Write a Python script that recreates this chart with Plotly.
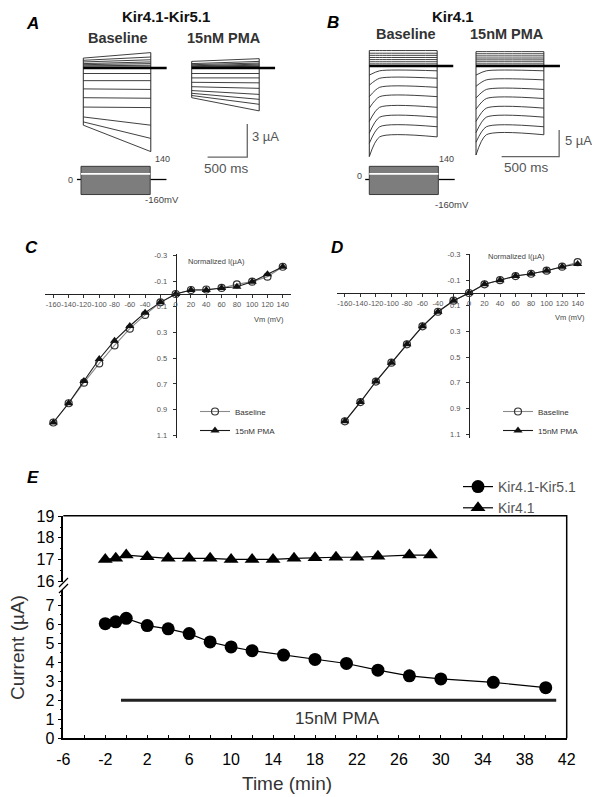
import plotly.graph_objects as go

# target canvas 600x797; the page body adds an 8px margin, so the figure is 8px smaller
OFF = 8
FW, FH = 600 - OFF, 797 - OFF
FONT = "Liberation Sans, Arial, sans-serif"

# ------------------------------------------------------------------ data
steps_mV = [-160, -140, -120, -100, -80, -60, -40, -20, 0, 20, 40, 60, 80, 100, 120, 140]

# Panel A (Kir4.1-Kir5.1): current at step onset and at step end (uA)
A_base_start = [-5.2, -4.9, -4.45, -3.55, -2.7, -1.9, -1.15, -0.5, 0.0, 0.1, 0.2, 0.3, 0.4, 0.55, 0.7, 0.9]
A_base_end = [-7.6, -6.4, -5.2, -3.6, -2.75, -1.95, -1.15, -0.5, 0.0, 0.1, 0.25, 0.4, 0.55, 0.75, 1.0, 1.4]
A_pma_start = [-2.7, -2.5, -2.3, -2.05, -1.7, -1.3, -0.9, -0.5, 0.0, 0.05, 0.1, 0.15, 0.2, 0.3, 0.4, 0.6]
A_pma_end = [-3.9, -3.3, -2.85, -2.4, -1.85, -1.35, -0.9, -0.5, 0.0, 0.1, 0.15, 0.25, 0.35, 0.45, 0.6, 0.85]

# Panel B (Kir4.1): peak current at onset and steady-state current (uA)
B_base_peak = [-17.0, -14.5, -12.6, -10.4, -7.9, -5.75, -3.6, -1.7, 0.0, 0.4, 0.8, 1.2, 1.6, 2.0, 2.4, 2.9]
B_base_ss = [-13.3, -11.4, -9.6, -7.75, -5.75, -4.0, -2.3, -0.9, 0.0, 0.4, 0.8, 1.2, 1.6, 2.0, 2.4, 2.9]
B_pma_peak = [-16.7, -14.3, -12.5, -10.4, -8.1, -6.0, -3.8, -1.7, 0.0, 0.4, 0.8, 1.15, 1.5, 1.9, 2.3, 2.7]
B_pma_ss = [-12.9, -11.4, -9.6, -7.9, -6.1, -4.4, -2.6, -0.9, 0.0, 0.4, 0.8, 1.15, 1.5, 1.9, 2.3, 2.7]

# protocol timing (ms)
A_pre_ms, A_step_ms, A_tail_ms = -50, 850, 1050
B_pre_ms, B_settle_ms, B_step_ms, B_tail_ms = -35, 90, 590, 730
hold_mV = 0
gap_mV = 60
A_bar_ms, A_bar_uA = 500, 3
B_bar_ms, B_bar_uA = 500, 5

# Panels C, D: normalized I-V
C_base = [1.0, 0.85, 0.69, 0.54, 0.40, 0.27, 0.163, 0.065, 0.0, -0.031, -0.035, -0.047, -0.075, -0.096, -0.135, -0.212]
C_pma = [1.0, 0.85, 0.677, 0.506, 0.363, 0.249, 0.145, 0.065, 0.0, -0.031, -0.031, -0.047, -0.057, -0.096, -0.153, -0.212]
D_base = [1.0, 0.85, 0.69, 0.543, 0.40, 0.26, 0.146, 0.06, 0.0, -0.068, -0.10, -0.132, -0.15, -0.174, -0.205, -0.24]
D_pma = [1.0, 0.85, 0.69, 0.543, 0.40, 0.26, 0.146, 0.06, 0.0, -0.068, -0.10, -0.132, -0.15, -0.174, -0.205, -0.226]
iv_yticks = [-0.3, -0.1, 0.1, 0.3, 0.5, 0.7, 0.9, 1.1]
iv_hidden_xlabel = -20

# Panel E: time course
t_k45 = [-2, -1, 0, 2, 4, 6, 8, 10, 12, 15, 18, 21, 24, 27, 30, 35, 40]
i_k45 = [6.02, 6.12, 6.3, 5.92, 5.75, 5.5, 5.06, 4.8, 4.6, 4.37, 4.14, 3.93, 3.58, 3.28, 3.12, 2.94, 2.66]
t_k41 = [-2, -1, 0, 2, 4, 6, 8, 10, 12, 14, 16, 18, 20, 22, 24, 27, 29]
i_k41 = [17.0, 17.05, 17.2, 17.12, 17.05, 17.05, 17.05, 17.0, 17.0, 17.0, 17.05, 17.08, 17.1, 17.1, 17.15, 17.2, 17.2]
pma_on_min, pma_off_min, pma_bar_level = -0.5, 41, 2.0
e_xticks = [-6, -2, 2, 6, 10, 14, 18, 22, 26, 30, 34, 38, 42]
e_low_yticks = [0, 1, 2, 3, 4, 5, 6, 7]
e_up_yticks = [16, 17, 18, 19]


# ------------------------------------------------------------------ helpers (target-pixel -> figure fractions)
def xdom(a, b):
    return [(a - OFF) / FW, (b - OFF) / FW]


def ydom(top, bot):
    return [1 - (bot - OFF) / FH, 1 - (top - OFF) / FH]


def xrng(a, b, o, s):
    return [(a - o) / s, (b - o) / s]


def yrng(top, bot, o, s):
    return [(o - bot) / s, (o - top) / s]


def yrng_down(top, bot, o, s):
    return [(bot - o) / s, (top - o) / s]


def px(x, y):
    return (x - OFF) / FW, 1 - (y - OFF) / FH


HID = dict(visible=False, showgrid=False, zeroline=False, fixedrange=True, automargin=False)

fig = go.Figure()
TR = "#2a2a2a"


def sweeps_linear(starts, ends, t_end):
    xs, ys = [], []
    for s, e in zip(starts, ends):
        xs += [0, t_end, None]
        ys += [s, e, None]
    return xs, ys


def sweeps_settle(peaks, sss, t_settle, t_end):
    xs, ys = [], []
    for p, s in zip(peaks, sss):
        xs += [0, t_settle, t_end, None]
        ys += [p, s, s, None]
    return xs, ys


def add_family(xs, ys, starts, ends, t_end, t_tail, ax, spline=False):
    xa, ya = ax
    fig.add_trace(go.Scatter(x=xs, y=ys, mode="lines", xaxis=xa, yaxis=ya, showlegend=False,
                             line=dict(color=TR, width=0.9, shape="spline" if spline else "linear",
                                       smoothing=0.7)))
    fig.add_trace(go.Scatter(x=[0, 0, None, t_end, t_end],
                             y=[min(starts), max(starts), None, min(ends), max(ends)],
                             mode="lines", xaxis=xa, yaxis=ya, showlegend=False,
                             line=dict(color=TR, width=1)))
    fig.add_trace(go.Scatter(x=[0, t_tail], y=[0, 0], mode="lines", xaxis=xa, yaxis=ya,
                             showlegend=False, line=dict(color="black", width=2.6)))


def add_protocol(pre, t_end, t_tail, ax):
    xa, ya = ax
    lo, hi = min(steps_mV), max(steps_mV)
    fig.add_trace(go.Scatter(x=[pre, 0, None, t_end, t_tail], y=[hold_mV, hold_mV, None, hold_mV, hold_mV],
                             mode="lines", xaxis=xa, yaxis=ya, showlegend=False,
                             line=dict(color="black", width=1.3)))
    fig.add_trace(go.Scatter(x=[0, 0, t_end, t_end, 0], y=[lo, hi, hi, lo, lo], fill="toself",
                             fillcolor="#7d7d7d", mode="lines", xaxis=xa, yaxis=ya, showlegend=False,
                             line=dict(color="#3a3a3a", width=1)))
    fig.add_trace(go.Scatter(x=[0, t_end], y=[gap_mV, gap_mV], mode="lines", xaxis=xa, yaxis=ya,
                             showlegend=False, line=dict(color="white", width=1.6)))


def add_scalebar(x0, y0, bar_ms, bar_ua, ax):
    xa, ya = ax
    fig.add_trace(go.Scatter(x=[x0, x0 + bar_ms, x0 + bar_ms], y=[y0, y0, y0 + bar_ua], mode="lines",
                             xaxis=xa, yaxis=ya, showlegend=False, line=dict(color="#666", width=1.3)))


# ------------------------------------------------------------------ panel A
xs, ys = sweeps_linear(A_base_start, A_base_end, A_step_ms)
add_family(xs, ys, A_base_start, A_base_end, A_step_ms, A_tail_ms, ("x", "y"))
xs, ys = sweeps_linear(A_pma_start, A_pma_end, A_step_ms)
add_family(xs, ys, A_pma_start, A_pma_end, A_step_ms, A_tail_ms, ("x2", "y2"))
add_scalebar(200, -8.1, A_bar_ms, A_bar_uA, ("x2", "y2"))
add_protocol(A_pre_ms, A_step_ms, A_tail_ms, ("x3", "y3"))

# ------------------------------------------------------------------ panel B
xs, ys = sweeps_settle(B_base_peak, B_base_ss, B_settle_ms, B_step_ms)
add_family(xs, ys, B_base_peak, B_base_ss, B_step_ms, B_tail_ms, ("x4", "y4"), spline=True)
xs, ys = sweeps_settle(B_pma_peak, B_pma_ss, B_settle_ms, B_step_ms)
add_family(xs, ys, B_pma_peak, B_pma_ss, B_step_ms, B_tail_ms, ("x5", "y5"), spline=True)
add_scalebar(223, -17.0, B_bar_ms, B_bar_uA, ("x5", "y5"))
add_protocol(B_pre_ms, B_step_ms, B_tail_ms, ("x6", "y6"))

# ------------------------------------------------------------------ panels C, D
for (base, pma, xa, ya, lg) in [(C_base, C_pma, "x7", "y7", "legend2"), (D_base, D_pma, "x8", "y8", "legend3")]:
    fig.add_trace(go.Scatter(x=steps_mV, y=base, name="Baseline", mode="lines+markers", xaxis=xa, yaxis=ya,
                             legend=lg, line=dict(color="#8a8a8a", width=1.1),
                             marker=dict(symbol="circle-open", size=7, color="#333",
                                         line=dict(width=1.2, color="#333"))))
    fig.add_trace(go.Scatter(x=steps_mV, y=pma, name="15nM PMA", mode="lines+markers", xaxis=xa, yaxis=ya,
                             legend=lg, line=dict(color="#1a1a1a", width=1.1),
                             marker=dict(symbol="triangle-up", size=8, color="#111")))

# ------------------------------------------------------------------ panel E
fig.add_trace(go.Scatter(x=t_k45, y=i_k45, name="Kir4.1-Kir5.1", mode="lines+markers", xaxis="x9", yaxis="y9",
                         line=dict(color="black", width=1.2), marker=dict(symbol="circle", size=13, color="black")))
fig.add_trace(go.Scatter(x=t_k41, y=i_k41, name="Kir4.1", mode="lines+markers", xaxis="x9", yaxis="y10",
                         line=dict(color="black", width=1.2),
                         marker=dict(symbol="triangle-up", size=13, color="black")))
fig.add_trace(go.Scatter(x=[pma_on_min, pma_off_min], y=[pma_bar_level, pma_bar_level], mode="lines",
                         xaxis="x9", yaxis="y9", showlegend=False, line=dict(color="#222", width=3)))

# ------------------------------------------------------------------ layout / axes
lay = dict(width=FW, height=FH, margin=dict(l=0, r=0, t=0, b=0, pad=0, autoexpand=False),
           paper_bgcolor="white", plot_bgcolor="rgba(0,0,0,0)", font=dict(family=FONT, color="#222"))

# A
lay["xaxis"] = dict(HID, domain=xdom(70, 178), range=xrng(70, 178, 83.3, 0.0794), anchor="y")
lay["yaxis"] = dict(HID, domain=ydom(40, 162), range=yrng(40, 162, 68, 11.0), anchor="x")
lay["xaxis2"] = dict(HID, domain=xdom(180, 295), range=xrng(180, 295, 191.7, 0.0794), anchor="y2")
lay["yaxis2"] = dict(HID, domain=ydom(40, 162), range=yrng(40, 162, 68, 11.0), anchor="x2")
lay["xaxis3"] = dict(HID, domain=xdom(70, 178), range=xrng(70, 178, 81.0, 0.0814), anchor="y3")
lay["yaxis3"] = dict(HID, domain=ydom(160, 200), range=yrng(160, 200, 179.5, 0.094), anchor="x3")
# B
lay["xaxis4"] = dict(HID, domain=xdom(355, 470), range=xrng(355, 470, 369.3, 0.115), anchor="y4")
lay["yaxis4"] = dict(HID, domain=ydom(40, 166), range=yrng(40, 166, 66, 5.33), anchor="x4")
lay["xaxis5"] = dict(HID, domain=xdom(465, 595), range=xrng(465, 595, 476, 0.115), anchor="y5")
lay["yaxis5"] = dict(HID, domain=ydom(40, 166), range=yrng(40, 166, 66, 5.33), anchor="x5")
lay["xaxis6"] = dict(HID, domain=xdom(355, 470), range=xrng(355, 470, 369.3, 0.117), anchor="y6")
lay["yaxis6"] = dict(HID, domain=ydom(160, 200), range=yrng(160, 200, 179.5, 0.094), anchor="x6")

# C, D
iv_xtext = ["" if v == iv_hidden_xlabel else str(v) for v in steps_mV]
iv_ytext = [("%.1f" % v) for v in iv_yticks]
small = dict(size=7.5, color="#555", family=FONT)


def iv_axes(n, xl, xr_, x0px, xs_, y0px, ys_, top=254, bot=438):
    lay["xaxis%d" % n] = dict(domain=xdom(xl, xr_), range=xrng(xl, xr_, x0px, xs_), anchor="free",
                              position=px(0, y0px)[1], showline=True, linecolor="#222", linewidth=1,
                              ticks="outside", ticklen=3, tickcolor="#333", tickvals=steps_mV,
                              ticktext=iv_xtext, tickfont=small, showgrid=False, zeroline=False,
                              tickangle=0, automargin=False)
    lay["yaxis%d" % n] = dict(domain=ydom(top, bot), range=yrng_down(top, bot, y0px, ys_), anchor="free",
                              position=px(x0px, 0)[0], showline=True, linecolor="#222", linewidth=1,
                              ticks="outside", ticklen=3, tickcolor="#333", tickvals=iv_yticks,
                              ticktext=iv_ytext, tickfont=small, showgrid=False, zeroline=False,
                              ticklabelstandoff=4, automargin=False)


iv_axes(7, 45, 291, 175.7, 0.7647, 294, 128.5)
iv_axes(8, 337, 585, 469.0, 0.776, 293, 128.3)

# E
E_L, E_R, E_TOP, E_BOT = 63.3, 566.7, 515.7, 738.3
big = dict(size=16, color="black", family=FONT)
lay["xaxis9"] = dict(domain=xdom(E_L, E_R), range=[e_xticks[0], e_xticks[-1]], anchor="y9",
                     showline=True, linecolor="black", linewidth=1.5, ticks="inside", ticklen=4,
                     tickcolor="black", tickvals=e_xticks, ticktext=[str(v) for v in e_xticks],
                     tickfont=big, showgrid=False, zeroline=False, ticklabelstandoff=6, automargin=False,
                     minor=dict(tickmode="linear", tick0=e_xticks[0], dtick=2, ticks="inside",
                                ticklen=4, tickcolor="black"))
lay["yaxis9"] = dict(domain=ydom(590, E_BOT), range=yrng(590, E_BOT, E_BOT, 19.04), anchor="x9",
                     showline=True, linecolor="black", linewidth=1.5, ticks="outside", ticklen=4,
                     tickcolor="black", tickvals=e_low_yticks, ticktext=[str(v) for v in e_low_yticks],
                     tickfont=big, showgrid=False, zeroline=False, automargin=False,
                     minor=dict(tickmode="linear", tick0=0, dtick=0.5, ticks="outside", ticklen=2,
                                tickcolor="black"))
lay["yaxis10"] = dict(domain=ydom(E_TOP, 582), range=[16 - 1 / 21.6, 16 + (581 - E_TOP) / 21.6], anchor="x9",
                      showline=True, linecolor="black", linewidth=1.5, ticks="outside", ticklen=4,
                      tickcolor="black", tickvals=e_up_yticks, ticktext=[str(v) for v in e_up_yticks],
                      tickfont=big, showgrid=False, zeroline=False, automargin=False,
                      minor=dict(tickmode="linear", tick0=16, dtick=0.5, ticks="outside", ticklen=2,
                                 tickcolor="black"))

# legends
lx, ly = px(458, 471)
lay["legend"] = dict(x=lx, y=ly, xanchor="left", yanchor="top", bgcolor="rgba(0,0,0,0)",
                     font=dict(size=14, color="#555", family=FONT), tracegroupgap=0, itemwidth=30)
lx, ly = px(195, 421)
lay["legend2"] = dict(x=lx, y=ly, xanchor="left", yanchor="middle", bgcolor="rgba(0,0,0,0)",
                      font=dict(size=8, color="#333", family=FONT), tracegroupgap=0, itemwidth=30)
lx, ly = px(498, 421)
lay["legend3"] = dict(x=lx, y=ly, xanchor="left", yanchor="middle", bgcolor="rgba(0,0,0,0)",
                      font=dict(size=8, color="#333", family=FONT), tracegroupgap=0, itemwidth=30)

# frame and axis break for E
x0, y0 = px(E_L, E_TOP)
x1, y1 = px(E_R, E_BOT)
shapes = [dict(type="path", xref="paper", yref="paper",
               path="M %f %f L %f %f L %f %f" % (x0, y0, x1, y0, x1, y1),
               line=dict(color="black", width=1.5))]
for (ax_, ay_, bx_, by_) in [(59, 587, 68, 578), (59, 593, 68, 584)]:
    a1, a2 = px(ax_, ay_)
    b1, b2 = px(bx_, by_)
    shapes.append(dict(type="line", xref="paper", yref="paper", x0=a1, y0=a2, x1=b1, y1=b2,
                       line=dict(color="black", width=1.3)))
lay["shapes"] = shapes

# text
anns = []


def ann(text, x, y, size, color="#222", xanchor="center", angle=0):
    ax_, ay_ = px(x, y)
    anns.append(dict(text=text, x=ax_, y=ay_, xref="paper", yref="paper", showarrow=False,
                     xanchor=xanchor, yanchor="middle", textangle=angle,
                     font=dict(size=size, color=color, family=FONT)))


ann("<b><i>A</i></b>", 32, 24, 17, "black")
ann("<b>Kir4.1-Kir5.1</b>", 166, 16, 15, "#111")
ann("<b>Baseline</b>", 117.5, 38, 14.5, "#333")
ann("<b>15nM PMA</b>", 224, 38, 14.5, "#333")
ann("3 µA", 265, 137, 13, "#555")
ann("500 ms", 226, 168, 13.5, "#555")
ann("140", 162, 159, 9, "#444")
ann("0", 70, 180, 9, "#444")
ann("-160mV", 162, 200, 9.5, "#444")

ann("<b><i>B</i></b>", 333, 22, 17, "black")
ann("<b>Kir4.1</b>", 453, 16, 15, "#111")
ann("<b>Baseline</b>", 406, 34, 14.5, "#333")
ann("<b>15nM PMA</b>", 507, 34, 14.5, "#333")
ann("5 µA", 578, 140, 13, "#555")
ann("500 ms", 526, 167, 13.5, "#555")
ann("140", 446, 159, 9, "#444")
ann("0", 359, 176, 9, "#444")
ann("-160mV", 452, 204, 9.5, "#444")

ann("<b><i>C</i></b>", 31, 247, 17, "black")
ann("Normalized I(µA)", 217, 261, 7.5, "#444")
ann("Vm (mV)", 269, 319, 7.5, "#444")
ann("<b><i>D</i></b>", 337, 247, 17, "black")
ann("Normalized I(µA)", 516, 257, 7.5, "#444")
ann("Vm (mV)", 570, 318, 7.5, "#444")

ann("<b><i>E</i></b>", 33, 477, 17, "black")
ann("15nM PMA", 337, 718, 17, "#333")
ann("Current (µA)", 17, 648, 19, "#333", angle=-90)
ann("Time (min)", 287, 783, 19, "#333")
lay["annotations"] = anns

fig.update_layout(**lay)
fig.write_html("out.html")
